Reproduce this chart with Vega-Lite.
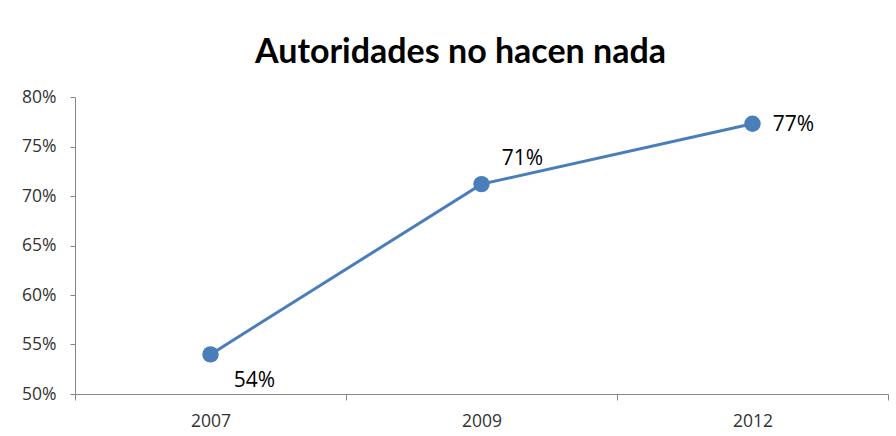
{
  "$schema": "https://vega.github.io/schema/vega-lite/v6.json",
  "width": 813,
  "height": 297,
  "autosize": {"type": "none"},
  "padding": {"left": 75, "top": 97, "right": 8, "bottom": 42},
  "background": "white",
  "title": {
    "text": "Autoridades no hacen nada",
    "font": "Lato",
    "fontSize": 34,
    "fontWeight": "bold",
    "color": "#000000",
    "anchor": "middle",
    "dx": -21,
    "offset": 18
  },
  "config": {
    "view": {"stroke": null},
    "axis": {
      "labelFont": "Open Sans",
      "labelFontSize": 17.5,
      "labelColor": "#333333",
      "domainColor": "#868686",
      "tickColor": "#868686",
      "grid": false,
      "title": null
    }
  },
  "data": {
    "values": [
      {"year": "2007", "value": 0.54},
      {"year": "2009", "value": 0.712},
      {"year": "2012", "value": 0.773}
    ]
  },
  "encoding": {
    "x": {
      "field": "year",
      "type": "nominal",
      "sort": null,
      "scale": {"type": "band", "paddingInner": 0, "paddingOuter": 0},
      "axis": {"labelAngle": 0, "tickBand": "extent", "tickSize": 6, "labelPadding": 12}
    },
    "y": {
      "field": "value",
      "type": "quantitative",
      "scale": {"domain": [0.5, 0.8], "nice": false, "zero": false},
      "axis": {"values": [0.5, 0.55, 0.6, 0.65, 0.7, 0.75, 0.8], "format": ".0%", "tickSize": 5, "labelPadding": 14}
    }
  },
  "layer": [
    {"mark": {"type": "line", "color": "#4A7EBB", "strokeWidth": 3}},
    {"mark": {"type": "point", "filled": true, "opacity": 1, "color": "#4A7EBB", "size": 270}},
    {
      "transform": [{"filter": "datum.year == '2007'"}],
      "mark": {"type": "text", "font": "Open Sans", "fontSize": 21, "color": "#000000", "dx": 44, "dy": 27},
      "encoding": {"text": {"field": "value", "format": ".0%"}}
    },
    {
      "transform": [{"filter": "datum.year == '2009'"}],
      "mark": {"type": "text", "font": "Open Sans", "fontSize": 21, "color": "#000000", "dx": 41, "dy": -25},
      "encoding": {"text": {"field": "value", "format": ".0%"}}
    },
    {
      "transform": [{"filter": "datum.year == '2012'"}],
      "mark": {"type": "text", "font": "Open Sans", "fontSize": 21, "color": "#000000", "dx": 41, "dy": 1},
      "encoding": {"text": {"field": "value", "format": ".0%"}}
    }
  ]
}
